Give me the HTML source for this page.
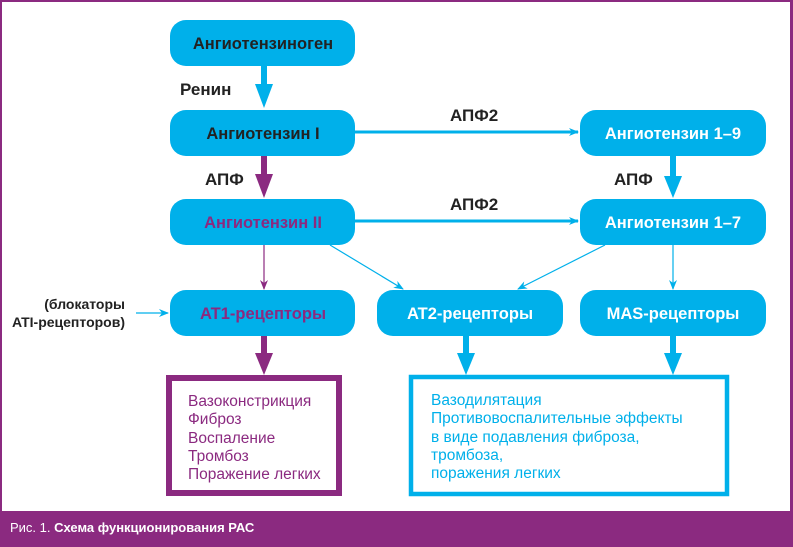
<!DOCTYPE html>
<html><head><meta charset="utf-8"><style>
html,body{margin:0;padding:0;background:#fff}
svg{display:block}
text{font-family:"Liberation Sans",sans-serif}
</style></head><body>
<svg width="793" height="547" viewBox="0 0 793 547" xmlns="http://www.w3.org/2000/svg">
<defs>
<marker id="ac" markerWidth="10" markerHeight="8" refX="9" refY="4" orient="auto" markerUnits="userSpaceOnUse"><path d="M0,0 L10,4 L0,8 L3,4 Z" fill="#00b0ea"/></marker>
<marker id="ap" markerWidth="10" markerHeight="8" refX="9" refY="4" orient="auto" markerUnits="userSpaceOnUse"><path d="M0,0 L10,4 L0,8 L3,4 Z" fill="#8b2a80"/></marker>
</defs>
<rect x="0" y="0" width="793" height="547" fill="#8b2a80"/>
<rect x="2" y="2" width="788" height="509" fill="#fff"/>
<text x="10" y="532" font-size="13" fill="#fff" style="font-family:'Liberation Sans Narrow','Liberation Sans',sans-serif">Рис. 1. <tspan font-weight="bold">Схема функционирования РАС</tspan></text>

<g fill="#00b0ea">
<rect x="170" y="20" width="185" height="46" rx="16"/>
<rect x="170" y="110" width="185" height="46" rx="16"/>
<rect x="170" y="199" width="185" height="46" rx="16"/>
<rect x="170" y="290" width="185" height="46" rx="16"/>
<rect x="377" y="290" width="186" height="46" rx="16"/>
<rect x="580" y="290" width="186" height="46" rx="16"/>
<rect x="580" y="110" width="186" height="46" rx="16"/>
<rect x="580" y="199" width="186" height="46" rx="16"/>
</g>
<g font-size="16.5" font-weight="bold" text-anchor="middle">
<text x="263" y="49" fill="#222">Ангиотензиноген</text>
<text x="263" y="139" fill="#222">Ангиотензин I</text>
<text x="263" y="228" fill="#8b2a80">Ангиотензин II</text>
<text x="263" y="319" fill="#8b2a80">AT1-рецепторы</text>
<text x="470" y="319" fill="#fff">AT2-рецепторы</text>
<text x="673" y="319" fill="#fff">MAS-рецепторы</text>
<text x="673" y="139" fill="#fff">Ангиотензин 1–9</text>
<text x="673" y="228" fill="#fff">Ангиотензин 1–7</text>
</g>
<g font-size="17" font-weight="bold" fill="#222">
<text x="180" y="95">Ренин</text>
<text x="205" y="185">АПФ</text>
<text x="450" y="121">АПФ2</text>
<text x="450" y="210">АПФ2</text>
<text x="614" y="185">АПФ</text>
</g>
<g font-size="14" font-weight="bold" fill="#222" text-anchor="end">
<text x="125" y="309">(блокаторы</text>
<text x="125" y="327">ATI-рецепторов)</text>
</g>

<g fill="#00b0ea">
<rect x="261" y="66" width="6" height="20"/><path d="M255,84 L273,84 L264,108 Z"/>
<rect x="463" y="336" width="6" height="20"/><path d="M457,353 L475,353 L466,375 Z"/>
<rect x="670" y="336" width="6" height="20"/><path d="M664,353 L682,353 L673,375 Z"/>
<rect x="670" y="156" width="6" height="22"/><path d="M664,176 L682,176 L673,198 Z"/>
</g>
<g fill="#8b2a80">
<rect x="261" y="156" width="6" height="20"/><path d="M255,174 L273,174 L264,198 Z"/>
<rect x="261" y="336" width="6" height="20"/><path d="M255,353 L273,353 L264,375 Z"/>
</g>
<g stroke="#00b0ea" fill="none">
<line x1="355" y1="132" x2="578" y2="132" stroke-width="3" marker-end="url(#ac)"/>
<line x1="355" y1="221" x2="578" y2="221" stroke-width="3" marker-end="url(#ac)"/>
<line x1="330" y1="245" x2="403" y2="289" stroke-width="1.2" marker-end="url(#ac)"/>
<line x1="605" y1="245" x2="518" y2="289" stroke-width="1.2" marker-end="url(#ac)"/>
<line x1="673" y1="245" x2="673" y2="289" stroke-width="1.2" marker-end="url(#ac)"/>
<line x1="136" y1="313" x2="168" y2="313" stroke-width="1.2" marker-end="url(#ac)"/>
</g>
<line x1="264" y1="245" x2="264" y2="289" stroke="#8b2a80" stroke-width="1.2" marker-end="url(#ap)"/>

<rect x="169" y="378" width="170" height="115" fill="#fff" stroke="#8b2a80" stroke-width="6"/>
<g font-size="15.5" fill="#8b2a80">
<text x="188" y="406">Вазоконстрикция</text>
<text x="188" y="424">Фиброз</text>
<text x="188" y="443">Воспаление</text>
<text x="188" y="461">Тромбоз</text>
<text x="188" y="479">Поражение легких</text>
</g>
<rect x="411" y="377" width="316" height="117" fill="#fff" stroke="#00b0ea" stroke-width="4.5"/>
<g font-size="15.5" fill="#00b0ea">
<text x="431" y="405">Вазодилятация</text>
<text x="431" y="423">Противовоспалительные эффекты</text>
<text x="431" y="442">в виде подавления фиброза,</text>
<text x="431" y="460">тромбоза,</text>
<text x="431" y="478">поражения легких</text>
</g>
</svg>
</body></html>
